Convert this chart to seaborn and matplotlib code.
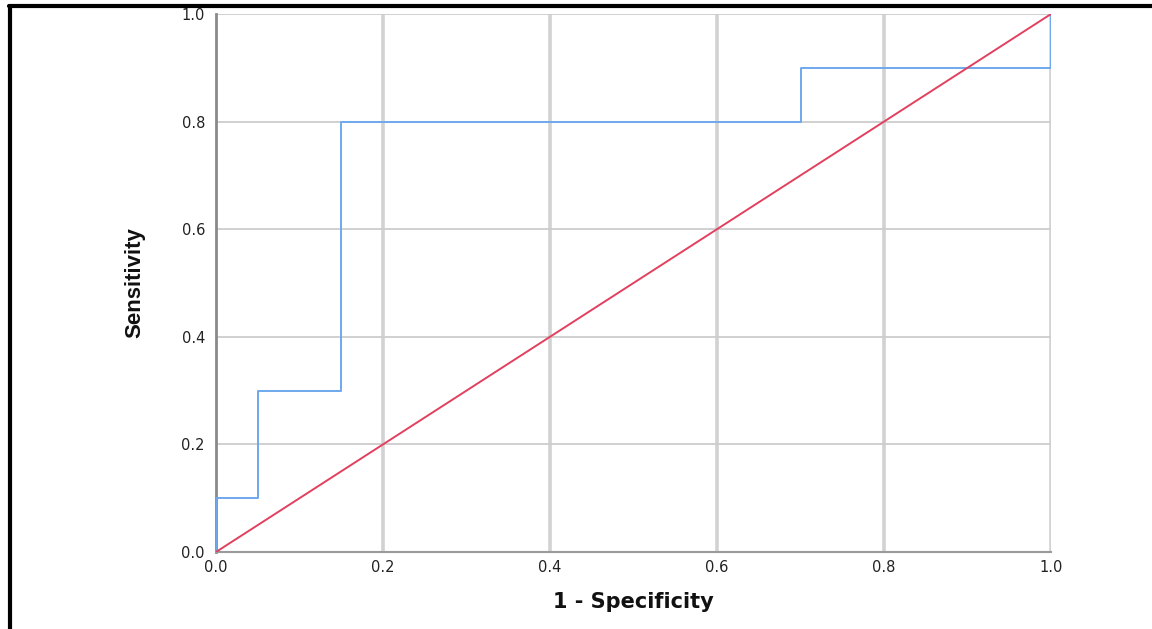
import matplotlib
matplotlib.use("Agg")
import matplotlib.pyplot as plt
import seaborn as sns
import pandas as pd
from matplotlib.lines import Line2D

# ROC curve coordinates (1 - specificity, sensitivity)
fpr = [0.0, 0.0, 0.05, 0.05, 0.15, 0.15, 0.70, 0.70, 1.0, 1.0]
tpr = [0.0, 0.1, 0.10, 0.30, 0.30, 0.80, 0.80, 0.90, 0.9, 1.0]
ref_x = [0.0, 1.0]
ref_y = [0.0, 1.0]
ticks = [0.0, 0.2, 0.4, 0.6, 0.8, 1.0]
tick_labels = ["0.0", "0.2", "0.4", "0.6", "0.8", "1.0"]

sns.set_theme(style="white")
plt.rcParams["font.family"] = ["DejaVu Sans"]

fig = plt.figure(figsize=(11.52, 6.29), dpi=100)
ax = fig.add_axes([216/1152, 1-552/629, (1051-216)/1152, (552-14)/629])

# gridlines
for t in ticks[1:]:
    ax.axvline(t, color="#d2d2d2", lw=2.6, zorder=0)
for t in ticks[1:]:
    ax.axhline(t, color="#cdcdcd", lw=1.3, zorder=0)

roc = pd.DataFrame({"x": fpr, "y": tpr})
ref = pd.DataFrame({"x": ref_x, "y": ref_y})
sns.lineplot(data=roc, x="x", y="y", estimator=None, sort=False,
             color="#6fa8ee", lw=1.4, ax=ax, zorder=3)
sns.lineplot(data=ref, x="x", y="y", estimator=None, sort=False,
             color="#e2405e", lw=1.4, ax=ax, zorder=4)

ax.set_xlim(0, 1)
ax.set_ylim(0, 1)
ax.set_xticks(ticks)
ax.set_yticks(ticks)
ax.set_xticklabels(tick_labels)
ax.set_yticklabels(tick_labels)
ax.tick_params(axis="both", length=0, labelsize=10.5, colors="#222222")
ax.tick_params(axis="y", pad=8)
ax.tick_params(axis="x", pad=6)

for s in ["top", "right"]:
    ax.spines[s].set_visible(False)
ax.spines["left"].set_color("#8a8a8a")
ax.spines["left"].set_linewidth(2.0)
ax.spines["bottom"].set_color("#9a9a9a")
ax.spines["bottom"].set_linewidth(1.5)

ax.set_xlabel("1 - Specificity", fontsize=15, fontweight="bold", color="#111111")
ax.set_ylabel("Sensitivity", fontsize=16, fontweight="bold", color="#111111",
              family=["Liberation Sans Narrow", "Liberation Sans", "DejaVu Sans"])
ax.yaxis.set_label_coords(-0.085, 0.5)
ax.xaxis.set_label_coords(0.5, -0.075)

# frame border on top and left of the figure
fig.add_artist(Line2D([9/1152, 1.0], [1-5.5/629, 1-5.5/629], color="black", lw=3, transform=fig.transFigure))
fig.add_artist(Line2D([10/1152, 10/1152], [0, 1-5.5/629], color="black", lw=3, transform=fig.transFigure))

fig.savefig("out.png", dpi=100)
